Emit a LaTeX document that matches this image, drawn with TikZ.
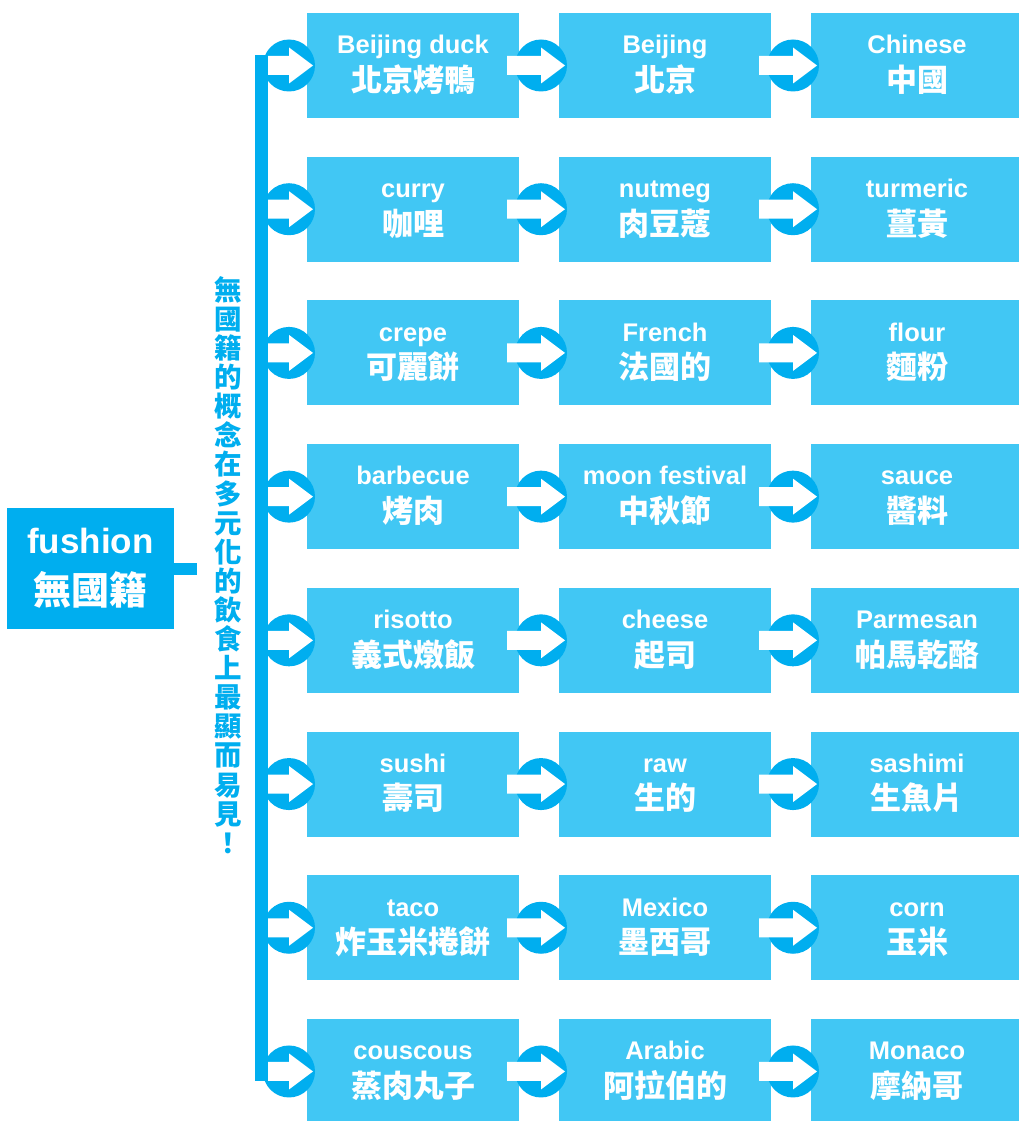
\documentclass[tikz,border=0pt]{standalone}
\usepackage{fontspec}
\setmainfont{Liberation Sans}
\newfontfamily\cjk{Noto Sans CJK TC}
\usetikzlibrary{calc}
\definecolor{boxblue}{RGB}{65,199,244}
\definecolor{darkblue}{RGB}{0,174,239}
\tikzset{
  item/.style={rectangle, fill=boxblue, minimum width=212pt, minimum height=105pt, inner sep=0pt},
  ring/.style={circle, fill=darkblue, minimum size=52pt, inner sep=0pt},
  entext/.style={text=white, font=\bfseries\fontsize{25.5}{25.5}\selectfont, inner sep=0pt, anchor=base},
  zhtext/.style={text=white, font=\cjk\bfseries\fontsize{31}{31}\selectfont, inner sep=0pt, anchor=base},
  whitearrow/.style={fill=white},
  barline/.style={draw=darkblue, line width=13pt},
}
\newcommand{\mycell}[5]{%
  \node[item] (#1) at (#2,#3) {};
  \node[entext] (#1en) at ($(#1.north)+(0,-41pt)$) {#4};
  \node[zhtext] (#1zh) at ($(#1.north)+(0,-78.5pt)$) {#5};
}
\begin{document}
\begin{tikzpicture}[x=1pt,y=-1pt]
\useasboundingbox (0,0) rectangle (1019,1121);
\fill[white] (0,0) rectangle (1019,1121);
% rows
\foreach \r/\ea/\za/\eb/\zb/\ec/\zc [count=\i from 0] in {
  1/Beijing duck/北京烤鴨/Beijing/北京/Chinese/中國,
  2/curry/咖哩/nutmeg/肉豆蔻/turmeric/薑黃,
  3/crepe/可麗餅/French/法國的/flour/麵粉,
  4/barbecue/烤肉/moon festival/中秋節/sauce/醬料,
  5/risotto/義式燉飯/cheese/起司/Parmesan/帕馬乾酪,
  6/sushi/壽司/raw/生的/sashimi/生魚片,
  7/taco/炸玉米捲餅/Mexico/墨西哥/corn/玉米,
  8/couscous/蒸肉丸子/Arabic/阿拉伯的/Monaco/摩納哥}{
  \pgfmathsetmacro{\yc}{65.5+143.71*\i}
  \mycell{b\r a}{413}{\yc}{\ea}{\za}
  \mycell{b\r b}{665}{\yc}{\eb}{\zb}
  \mycell{b\r c}{917}{\yc}{\ec}{\zc}
  \node[ring] (r\r a) at (289,\yc) {};
  \node[ring] (r\r b) at (541,\yc) {};
  \node[ring] (r\r c) at (793,\yc) {};
  \fill[whitearrow, shift={(r\r a.center)}] (-27,-9.5) -- (0,-9.5) -- (0,-18) -- (24,0) -- (0,18) -- (0,9.5) -- (-27,9.5) -- cycle;
  \fill[whitearrow, shift={(r\r b.center)}] (-34,-9.5) -- (0,-9.5) -- (0,-18) -- (24,0) -- (0,18) -- (0,9.5) -- (-34,9.5) -- cycle;
  \fill[whitearrow, shift={(r\r c.center)}] (-34,-9.5) -- (0,-9.5) -- (0,-18) -- (24,0) -- (0,18) -- (0,9.5) -- (-34,9.5) -- cycle;
}
% vertical bar
\draw[barline] ([shift={(-27.5pt,10pt)}]r1a.center) -- ([shift={(-27.5pt,-10pt)}]r8a.center);
% vertical text
\node[text=darkblue, font=\cjk\bfseries\fontsize{27.5}{29.1}\selectfont, align=center, inner sep=0pt] (vt) at (228,565)
  {無\\國\\籍\\的\\概\\念\\在\\多\\元\\化\\的\\飲\\食\\上\\最\\顯\\而\\易\\見\\！};
% root node
\node[rectangle, fill=darkblue, minimum width=167pt, minimum height=121pt, inner sep=0pt] (root) at (90.5,568.5) {};
\node[text=white, font=\bfseries\fontsize{35}{35}\selectfont, inner sep=0pt, anchor=base] (rooten) at ($(root.north)+(0,-46pt)$) {fushion};
\node[text=white, font=\cjk\bfseries\fontsize{38}{38}\selectfont, inner sep=0pt, anchor=base] (rootzh) at ($(root.north)+(0,-97pt)$) {無國籍};
\draw[draw=darkblue, line width=12pt] (root.east) -- ++(23,0) coordinate (stubend);
\end{tikzpicture}
\end{document}
